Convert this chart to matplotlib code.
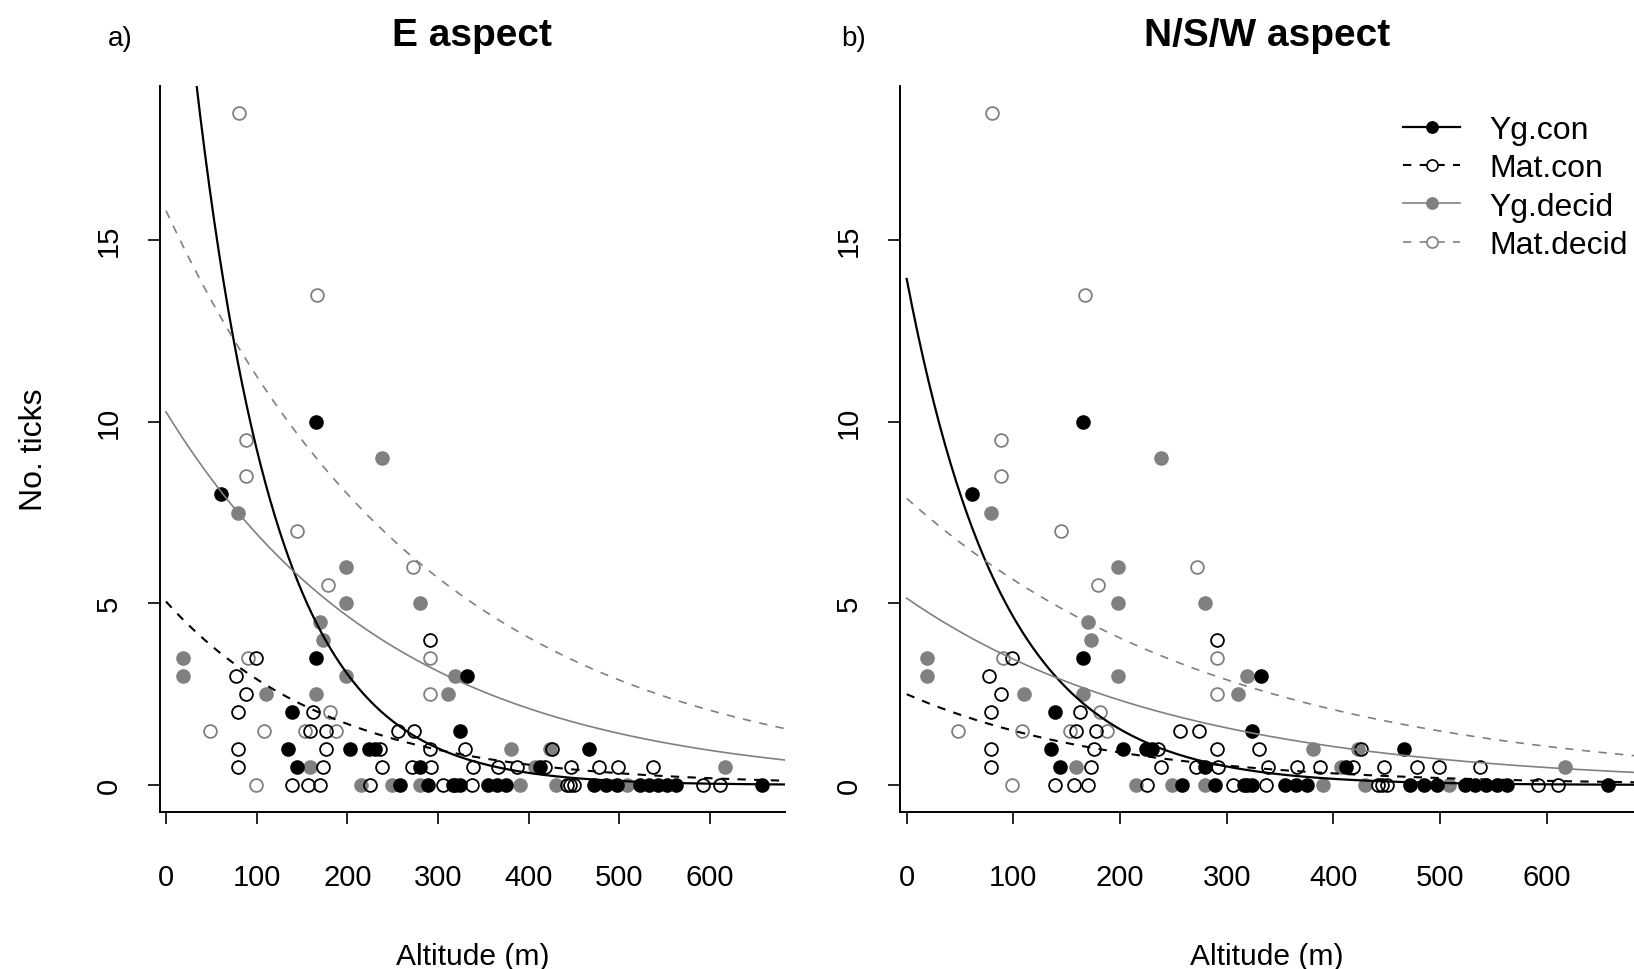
import numpy as np
import matplotlib
matplotlib.use('Agg')
import matplotlib.pyplot as plt
from matplotlib.lines import Line2D

plt.rcParams['font.family'] = ['Liberation Sans', 'DejaVu Sans']

# ---------------- data ----------------
yg_con_x = [61, 165, 165, 139, 332, 324, 135, 203, 224, 230, 466, 144, 280, 412,
            258, 289, 316, 324, 355, 365, 375, 472, 485, 497, 523, 533, 543, 553, 563, 657]
yg_con_y = [8, 10, 3.5, 2, 3, 1.5, 1, 1, 1, 1, 1, 0.5, 0.5, 0.5,
            0, 0, 0, 0, 0, 0, 0, 0, 0, 0, 0, 0, 0, 0, 0, 0]

mat_con_x = [291, 99, 77, 88, 79, 162, 159, 177, 256, 274, 79, 176, 236, 291, 330, 426,
             79, 173, 238, 271, 292, 339, 366, 387, 418, 447, 478, 499, 537,
             139, 157, 170, 225, 306, 319, 337, 442, 446, 450, 592, 611]
mat_con_y = [4, 3.5, 3, 2.5, 2, 2, 1.5, 1.5, 1.5, 1.5, 1, 1, 1, 1, 1, 1,
             0.5, 0.5, 0.5, 0.5, 0.5, 0.5, 0.5, 0.5, 0.5, 0.5, 0.5, 0.5, 0.5,
             0, 0, 0, 0, 0, 0, 0, 0, 0, 0, 0, 0]

yg_dec_x = [238, 79, 198, 198, 280, 170, 173, 19, 19, 198, 319, 110, 165, 311,
            159, 407, 617, 381, 423, 215, 249, 280, 390, 430, 508]
yg_dec_y = [9, 7.5, 6, 5, 5, 4.5, 4, 3.5, 3, 3, 3, 2.5, 2.5, 2.5,
            0.5, 0.5, 0.5, 1, 1, 0, 0, 0, 0, 0, 0]

mat_dec_x = [80, 167, 88, 88, 145, 179, 272, 291, 90, 291, 181, 48, 108, 153, 188, 99]
mat_dec_y = [18.5, 13.5, 9.5, 8.5, 7, 5.5, 6, 3.5, 3.5, 2.5, 2, 1.5, 1.5, 1.5, 1.5, 0]

# fitted exponential curves: y = a * exp(-b * altitude)
groups = ["Yg.con", "Mat.con", "Yg.decid", "Mat.decid"]
e_a = [27.97, 5.05, 10.27, 15.81]
e_b = [0.01107, 0.0055, 0.00396, 0.0034]
nsw_a = [13.93, 2.5, 5.14, 7.89]
nsw_b = [0.01103, 0.00514, 0.00395, 0.00334]

titles = ["E aspect", "N/S/W aspect"]
panel_tags = ["a)", "b)"]
xticks = [0, 100, 200, 300, 400, 500, 600]
yticks = [0, 5, 10, 15]

# ---------------- styling ----------------
GREY = '#808080'
W, H = 1634, 970
fig = plt.figure(figsize=(W / 100, H / 100), dpi=100)

all_x = yg_con_x + mat_con_x + yg_dec_x + mat_dec_x
all_y = yg_con_y + mat_con_y + yg_dec_y + mat_dec_y
xlo, xhi = min(all_x), max(all_x)
ylo, yhi = min(all_y), max(all_y)
xlim = (xlo - 0.04 * (xhi - xlo), xhi + 0.04 * (xhi - xlo))
ylim = (ylo - 0.04 * (yhi - ylo), yhi + 0.04 * (yhi - ylo))

# panel pixel geometry: (pixel of x=0, pixels per unit)
panel_geo = [(166.0, 0.9067), (906.7, 1.0667)]
y0_px, ypu = 786.0, 36.33

styles = [
    dict(color='black', ls='-', lw=1.6, mfc='black', mec='black'),
    dict(color='black', ls=(0, (4, 4)), lw=1.5, mfc='none', mec='black'),
    dict(color=GREY, ls='-', lw=1.2, mfc=GREY, mec=GREY),
    dict(color=GREY, ls=(0, (5, 5)), lw=1.2, mfc='none', mec=GREY),
]
pts = [(yg_con_x, yg_con_y), (mat_con_x, mat_con_y),
       (yg_dec_x, yg_dec_y), (mat_dec_x, mat_dec_y)]
params = [(e_a, e_b), (nsw_a, nsw_b)]

axes = []
for p in range(2):
    x0px, xpu = panel_geo[p]
    left = x0px + xlim[0] * xpu
    right = x0px + xlim[1] * xpu
    top = y0_px - ylim[1] * ypu
    bottom = y0_px - ylim[0] * ypu
    ax = fig.add_axes([left / W, 1 - bottom / H, (right - left) / W, (bottom - top) / H])
    axes.append(ax)
    ax.set_xlim(xlim)
    ax.set_ylim(ylim)

    # points: deciduous first, then conifer on top
    for gi in [2, 3, 0, 1]:
        st = styles[gi]
        xs, ys = pts[gi]
        ax.plot(xs, ys, ls='none', marker='o', ms=9.2, mfc=st['mfc'], mec=st['mec'],
                mew=1.3, zorder=2 + (gi < 2))

    a_s, b_s = params[p]
    xc = np.linspace(0, xlim[1], 400)
    for gi in range(4):
        st = styles[gi]
        ax.plot(xc, a_s[gi] * np.exp(-b_s[gi] * xc), color=st['color'], ls=st['ls'],
                lw=st['lw'], zorder=5)

    for s in ['top', 'right']:
        ax.spines[s].set_visible(False)
    for s in ['left', 'bottom']:
        ax.spines[s].set_linewidth(1.4)
    ax.set_xticks(xticks)
    ax.set_yticks(yticks)
    ax.tick_params(axis='both', direction='out', length=8.6, width=1.2, labelsize=21,
                   colors='black')
    ax.tick_params(axis='x', pad=28)
    ax.tick_params(axis='y', pad=18)
    for lab in ax.get_yticklabels():
        lab.set_rotation(90)
        lab.set_va('center')

    cx = (left + right) / 2
    fig.text(cx / W, 1 - 46 / H, titles[p], ha='center', va='baseline',
             fontsize=28, fontweight='bold')
    fig.text(cx / W, 1 - 965 / H, "Altitude (m)", ha='center', va='baseline', fontsize=21.6)

fig.text(120 / W, 1 - 46 / H, panel_tags[0], ha='center', va='baseline', fontsize=20)
fig.text(854 / W, 1 - 46 / H, panel_tags[1], ha='center', va='baseline', fontsize=20)
fig.text(34 / W, 1 - 450 / H, "No. ticks", ha='center', va='center', rotation=90, fontsize=23)

handles = []
for gi in range(4):
    st = styles[gi]
    handles.append(Line2D([], [], color=st['color'], ls=st['ls'], lw=st['lw'], marker='o',
                          ms=8, mfc=('white' if st['mfc'] == 'none' else st['mfc']),
                          mec=st['mec'], mew=1.2))
leg = axes[1].legend(handles, groups, loc='upper left',
                     bbox_to_anchor=(1403 / W, 1 - 116 / H), bbox_transform=fig.transFigure,
                     frameon=False, fontsize=23, handlelength=1.79, handletextpad=0.9,
                     labelspacing=0.26, borderpad=0, borderaxespad=0)

fig.savefig('out.png', dpi=100)
